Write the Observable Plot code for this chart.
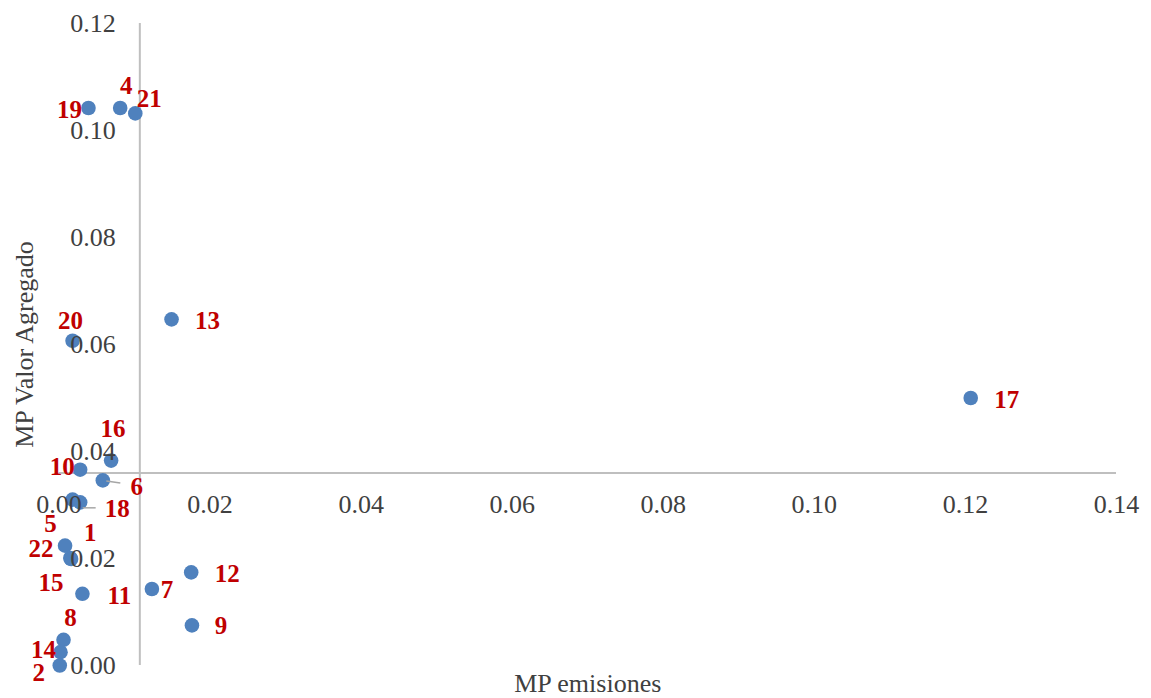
<!DOCTYPE html>
<html>
<head>
<meta charset="utf-8">
<script src="https://cdn.jsdelivr.net/npm/d3@7"></script>
<script src="https://cdn.jsdelivr.net/npm/@observablehq/plot@0.6"></script>
<style>
  html, body { margin: 0; padding: 0; background: #fff; }
  #chart svg { display: block; }
</style>
</head>
<body>
<div id="chart"></div>
<script>
// ---- data ----
const ids     = ["19", "4", "21", "13", "20", "17", "16", "10", "6", "5", "18", "22", "1", "15", "11", "7", "12", "9", "8", "14", "2"];
const mpEmis  = [0.0039, 0.0081, 0.0101, 0.0149, 0.0018, 0.1207, 0.0069, 0.0028, 0.0058, 0.0018, 0.0028, 0.0008, 0.0015, 0.0016, 0.0031, 0.0123, 0.0175, 0.0176, 0.0006, 0.0002, 0.0001];
const mpValor = [0.1042, 0.1042, 0.1032, 0.0647, 0.0607, 0.0500, 0.0383, 0.0366, 0.0346, 0.0310, 0.0305, 0.0224, 0.0201, 0.0199, 0.0134, 0.0143, 0.0174, 0.0075, 0.0048, 0.0025, 0.0000];

// label placement (pixel offsets from each point, as moved by hand in the original)
const labelDx = [-19, 6, 14, 36, -2, 36, 2, -18, 34, -22, 37, -24, 20, -20, 37, 15, 36, 29, 7, -17, -21];
const labelDy = [2, -22, -14, 2, -20, 2, -32, -3, 7, 24, 7, 3, -25, 24, 2, 1, 2, 1, -22, -2, 7];
// leader lines for labels that were pulled away from their point: [id, x1off, y1off, x2off, y2off]
const leaders = [["6", 4, 1, 18, 3], ["18", 3, 6, 16, 6]];

const xTicks = [0, 0.02, 0.04, 0.06, 0.08, 0.10, 0.12, 0.14];
const yTicks = [0, 0.02, 0.04, 0.06, 0.08, 0.10, 0.12];
const xCross = 0.0107;   // value where the vertical axis crosses
const yCross = 0.036;    // value where the horizontal axis crosses
const xTitle = "MP emisiones";
const yTitle = "MP Valor Agregado";

const data = ids.map((id, i) => ({id, x: mpEmis[i], y: mpValor[i], dx: labelDx[i], dy: labelDy[i]}));
const fmt = d3.format(".2f");
const FONT = "'Liberation Serif', 'Times New Roman', serif";
const AXIS = "#BFBFBF";
const TXT = "#404040";

// leader line mark drawn through the plot's scales
function leaderMark(index, scales) {
  const g = d3.create("svg:g");
  for (const [id, a, b, c, e] of leaders) {
    const d = data.find(r => r.id === id);
    const px = scales.x(d.x), py = scales.y(d.y);
    g.append("line")
      .attr("x1", px + a).attr("y1", py + b)
      .attr("x2", px + c).attr("y2", py + e)
      .attr("stroke", "#A6A6A6").attr("stroke-width", 1.5);
  }
  return g.node();
}

const chart = Plot.plot({
  width: 1151,
  height: 698,
  marginLeft: 58.5,
  marginRight: 35,
  marginTop: 23,
  marginBottom: 33,
  x: {domain: [0, 0.14], axis: null},
  y: {domain: [0, 0.12], axis: null},
  style: {fontFamily: FONT, background: "#fff", overflow: "visible"},
  marks: [
    Plot.ruleY([yCross], {x1: 0, x2: 0.14, stroke: AXIS, strokeWidth: 2}),
    Plot.ruleX([xCross], {y1: 0, y2: 0.12, stroke: AXIS, strokeWidth: 2}),
    Plot.dot(data, {x: "x", y: "y", r: 7.3, fill: "#4F81BD", stroke: "none"}),
    Plot.text(xTicks, {x: d => d, y: () => yCross, dy: 32, text: d => fmt(d), fontSize: 26, fill: TXT, fontFamily: FONT}),
    Plot.text(yTicks, {x: () => xCross, y: d => d, dx: -24, textAnchor: "end", text: d => fmt(d), fontSize: 26, fill: TXT, fontFamily: FONT}),
    leaderMark,
    ...data.map(d => Plot.text([d], {x: "x", y: "y", text: "id", dx: d.dx, dy: d.dy, fontSize: 25, fontWeight: "bold", fill: "#C00000", fontFamily: FONT})),
    Plot.text([xTitle], {frameAnchor: "bottom", textAnchor: "middle", lineAnchor: "middle", dy: 18, fontSize: 26, fill: TXT, fontFamily: FONT}),
    Plot.text([yTitle], {frameAnchor: "left", textAnchor: "middle", lineAnchor: "middle", dx: -34, rotate: -90, fontSize: 26, fill: TXT, fontFamily: FONT})
  ]
});
document.getElementById("chart").appendChild(chart);
</script>
</body>
</html>
